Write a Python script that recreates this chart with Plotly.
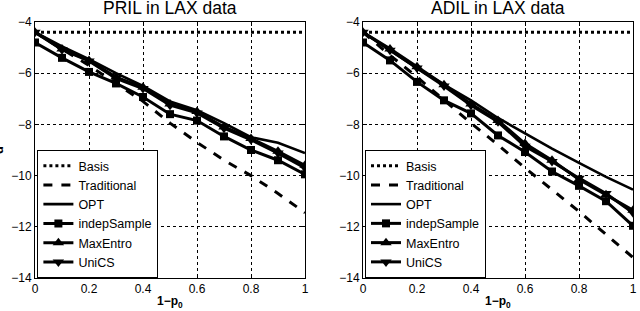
import plotly.graph_objects as go

x = [0, 0.1, 0.2, 0.3, 0.4, 0.5, 0.6, 0.7, 0.8, 0.9, 1.0]

# PRIL in LAX data
pril_basis = [-4.4] * 11
pril_trad = [-4.4, -5.05, -5.7, -6.4, -7.1, -7.95, -8.7, -9.4, -10.0, -10.7, -11.45]
pril_opt = [-4.4, -4.95, -5.45, -6.0, -6.5, -7.1, -7.45, -7.95, -8.5, -8.72, -9.12]
pril_indep = [-4.8, -5.4, -5.95, -6.4, -6.93, -7.6, -7.85, -8.47, -9.0, -9.4, -9.95]
pril_maxent = [-4.4, -5.05, -5.5, -6.15, -6.55, -7.2, -7.5, -8.1, -8.55, -9.05, -9.6]
pril_unics = [-4.4, -5.08, -5.52, -6.2, -6.6, -7.25, -7.55, -8.15, -8.6, -9.12, -9.7]

# ADIL in LAX data
adil_basis = [-4.4] * 11
adil_trad = [-4.4, -5.3, -6.15, -7.05, -7.95, -8.8, -9.7, -10.55, -11.4, -12.3, -13.2]
adil_opt = [-4.4, -5.1, -5.8, -6.45, -7.06, -7.75, -8.35, -8.95, -9.5, -10.05, -10.55]
adil_indep = [-4.8, -5.5, -6.34, -7.06, -7.57, -8.43, -9.08, -9.84, -10.4, -11.0, -11.96]
adil_maxent = [-4.4, -5.05, -5.75, -6.45, -7.2, -7.85, -8.75, -9.4, -10.15, -10.75, -11.35]
adil_unics = [-4.4, -5.1, -5.8, -6.5, -7.25, -7.9, -8.85, -9.45, -10.1, -10.7, -11.45]

titles = ["PRIL in LAX data", "ADIL in LAX data"]
names = ["Basis", "Traditional", "OPT", "indepSample", "MaxEntro", "UniCS"]
xticks = [0, 0.2, 0.4, 0.6, 0.8, 1]
xticklabels = ["0", "0.2", "0.4", "0.6", "0.8", "1"]
yticks = [-14, -12, -10, -8, -6, -4]
yticklabels = ["\u221214", "\u221212", "\u221210", "\u22128", "\u22126", "\u22124"]

panels = [
    [pril_basis, pril_trad, pril_opt, pril_indep, pril_maxent, pril_unics],
    [adil_basis, adil_trad, adil_opt, adil_indep, adil_maxent, adil_unics],
]

styles = [
    dict(dash="dot", marker=None),
    dict(dash="dash", marker=None),
    dict(dash="solid", marker=None),
    dict(dash="solid", marker=dict(symbol="square", size=8)),
    dict(dash="solid", marker=dict(symbol="triangle-up", size=10)),
    dict(dash="solid", marker=dict(symbol="triangle-down", size=10)),
]

fig = go.Figure()
font = "Liberation Sans, Arial, sans-serif"

for p, series in enumerate(panels):
    xa = "x" if p == 0 else "x2"
    ya = "y" if p == 0 else "y2"
    lg = "legend" if p == 0 else "legend2"
    for name, ys, st in zip(names, series, styles):
        mode = "lines+markers" if st["marker"] else "lines"
        kw = dict(x=x, y=ys, name=name, mode=mode, xaxis=xa, yaxis=ya, legend=lg,
                  line=dict(color="black", width=3 if name != "OPT" else 2.6, dash=st["dash"]))
        if st["marker"]:
            kw["marker"] = dict(color="black", **st["marker"])
        fig.add_trace(go.Scatter(**kw))

axis_common = dict(
    showline=True, linecolor="black", linewidth=1, mirror="ticks",
    ticks="inside", ticklen=4, tickcolor="black", automargin=False,
    showgrid=True, gridcolor="black", griddash="dot", gridwidth=1,
    zeroline=False, tickfont=dict(family=font, size=12, color="black"),
)

d1 = [0, 270 / 598]
d2 = [328 / 598, 1]
legend_common = dict(y=0.0, xanchor="left", yanchor="bottom", bgcolor="white",
                     bordercolor="black", borderwidth=1, tracegroupgap=0, itemwidth=30,
                     font=dict(family=font, size=12.5, color="black"))
fig.update_layout(
    width=640, height=311,
    margin=dict(l=35, r=7, t=22, b=33, autoexpand=False),
    paper_bgcolor="white", plot_bgcolor="white",
    font=dict(family=font, size=12, color="black"),
    xaxis=dict(domain=d1, range=[0, 1], tickvals=xticks, ticktext=xticklabels, anchor="y", **axis_common),
    xaxis2=dict(domain=d2, range=[0, 1], tickvals=xticks, ticktext=xticklabels, anchor="y2", **axis_common),
    yaxis=dict(range=[-14, -4], tickvals=yticks, ticktext=yticklabels, anchor="x", **axis_common),
    yaxis2=dict(range=[-14, -4], tickvals=yticks, ticktext=yticklabels, anchor="x2", **axis_common),
    legend=dict(x=0.004, **legend_common),
    legend2=dict(x=330 / 598, **legend_common),
    showlegend=True,
)

for i, t in enumerate(titles):
    cx = (d1[0] + d1[1]) / 2 if i == 0 else (d2[0] + d2[1]) / 2
    fig.add_annotation(text=t, x=cx, y=1.0, xref="paper", yref="paper", xanchor="center",
                       yanchor="middle", yshift=14, showarrow=False,
                       font=dict(family=font, size=17.5, color="black"))
    fig.add_annotation(text="<b>1\u2212p<sub>0</sub></b>", x=cx, y=0, xref="paper", yref="paper",
                       xanchor="center", yanchor="top", yshift=-14, showarrow=False,
                       font=dict(family=font, size=12, color="black"))

fig.add_annotation(text="<b>d</b>", x=0, y=0.5, xref="paper", yref="paper", xshift=-37,
                   xanchor="center", textangle=-90, showarrow=False,
                   font=dict(family=font, size=13, color="black"))

fig.write_html("out.html", config={"displayModeBar": False},
               post_script="document.body.style.margin='0';document.body.style.overflow='hidden';")
